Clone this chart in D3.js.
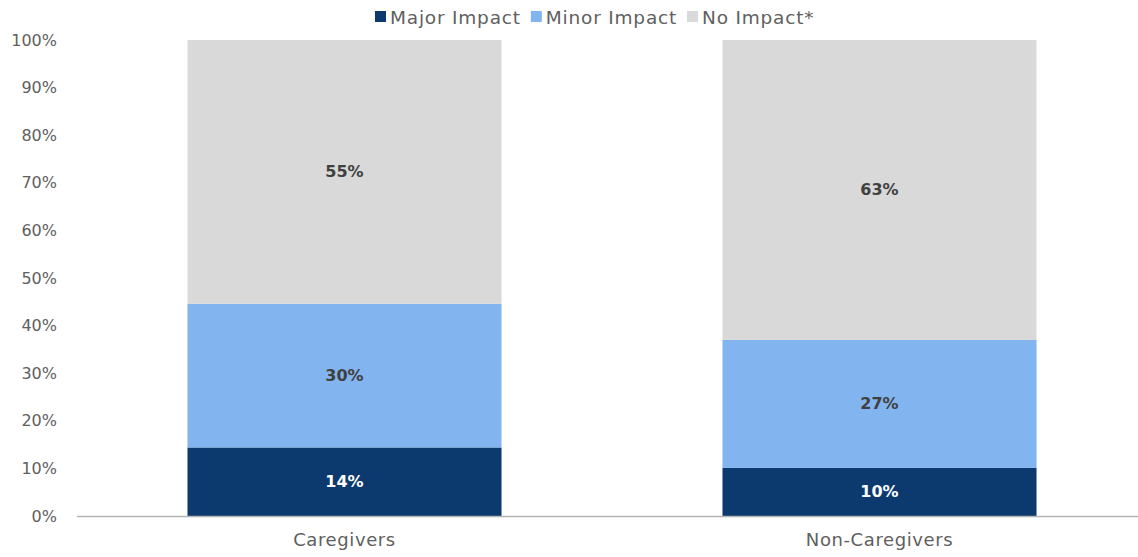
<!DOCTYPE html>
<html><head><meta charset="utf-8">
<script src="https://cdn.jsdelivr.net/npm/d3@7"></script>
<style>body{margin:0;background:#fff;} text{font-family:"DejaVu Sans",sans-serif;}</style>
</head><body>
<svg id="c" width="1138" height="557"></svg>
<script>
const categories = ["Caregivers", "Non-Caregivers"];
const seriesNames = ["Major Impact", "Minor Impact", "No Impact*"];
const majorImpact = [14.4, 10.1];
const minorImpact = [30.2, 26.9];
const noImpact = [55.4, 63.0];
const yTicks = [0,10,20,30,40,50,60,70,80,90,100];
const colors = ["#0c3a6e", "#82b5f0", "#d9d9d9"];
const labelColors = ["#ffffff", "#404040", "#404040"];

const svg = d3.select("#c");
const x = d3.scaleBand().domain(categories).range([77, 1147]).paddingInner(0.413).paddingOuter(0.2065);
const y = d3.scaleLinear().domain([0, 100]).range([516, 40]);

const rows = categories.map((c, i) => ({cat: c, "Major Impact": majorImpact[i], "Minor Impact": minorImpact[i], "No Impact*": noImpact[i]}));
const stack = d3.stack().keys(seriesNames)(rows);

// y axis labels
const ya = svg.append("g").attr("transform", "translate(57,0)")
  .call(d3.axisLeft(y).tickValues(yTicks).tickSize(0).tickPadding(0).tickFormat(d => d + "%"));
ya.select(".domain").remove();
ya.selectAll("text").attr("fill", "#606060").style("font-size", "16px").style("font-family", "'DejaVu Sans', sans-serif");

stack.forEach((s, si) => {
  const g = svg.append("g");
  g.selectAll("rect").data(s).join("rect")
    .attr("x", d => x(d.data.cat)).attr("width", x.bandwidth())
    .attr("y", d => y(d[1])).attr("height", d => y(d[0]) - y(d[1]))
    .attr("fill", colors[si]);
  g.selectAll("text").data(s).join("text")
    .attr("x", d => x(d.data.cat) + x.bandwidth() / 2)
    .attr("y", d => (y(d[0]) + y(d[1])) / 2)
    .attr("text-anchor", "middle").attr("dominant-baseline", "central")
    .attr("fill", labelColors[si]).style("font-size", "16px").style("font-weight", "bold")
    .text(d => Math.round(d[1] - d[0]) + "%");
});

// x axis
const xa = svg.append("g").attr("transform", "translate(0,516)")
  .call(d3.axisBottom(x).tickSize(0).tickPadding(17));
xa.select(".domain").attr("stroke", "#b3b3b3").attr("stroke-width", 1.5).attr("d", "M77,0.5H1138");
xa.selectAll("text").attr("fill", "#606060").style("font-size", "18px").style("letter-spacing", "0.6px").style("font-family", "'DejaVu Sans', sans-serif");

// legend
const lg = svg.append("g");
let lx = 375;
seriesNames.forEach((n, i) => {
  lg.append("rect").attr("x", lx).attr("y", 11).attr("width", 11).attr("height", 11).attr("fill", colors[i]);
  const t = lg.append("text").attr("x", lx + 15).attr("y", 17).attr("dominant-baseline", "central")
    .attr("fill", "#606060").style("font-size", "18.5px").style("letter-spacing", "0.8px").text(n);
  lx += 15 + t.node().getComputedTextLength() + 10;
});
</script>
</body></html>
